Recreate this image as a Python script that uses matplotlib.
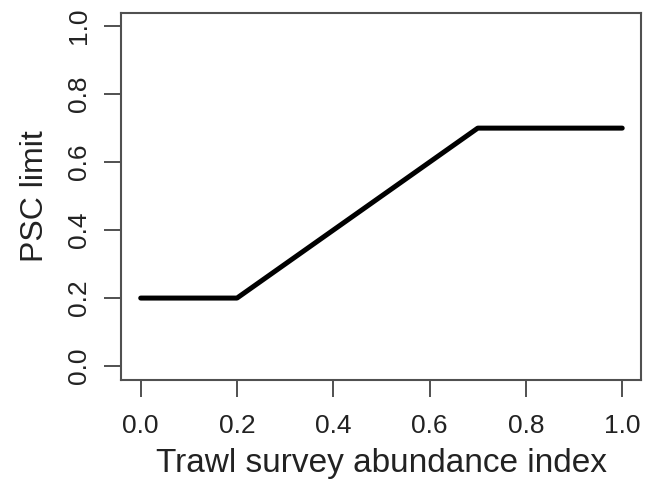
import matplotlib
matplotlib.use('Agg')
import matplotlib.pyplot as plt

# 데이터
abundance = [0.0, 0.2, 0.7, 1.0]
psc_limit = [0.2, 0.2, 0.7, 0.7]
tick_vals = [0.0, 0.2, 0.4, 0.6, 0.8, 1.0]
tick_labels = ['0.0', '0.2', '0.4', '0.6', '0.8', '1.0']

plt.rcParams['font.family'] = ['Liberation Sans', 'DejaVu Sans']

fig = plt.figure(figsize=(6.46, 4.83), dpi=100)
ax = fig.add_axes([0.188, 0.214, 0.805, 0.760])

ax.plot(abundance, psc_limit, color='black', linewidth=3.6,
        solid_capstyle='round', solid_joinstyle='round')

ax.set_xlim(-0.04, 1.04)
ax.set_ylim(-0.04, 1.04)
ax.set_xticks(tick_vals)
ax.set_xticklabels(tick_labels)
ax.set_yticks(tick_vals)
ax.set_yticklabels(tick_labels, rotation=90, va='center')

for s in ax.spines.values():
    s.set_color('#505050')
    s.set_linewidth(1.5)

ax.tick_params(axis='both', direction='out', length=12, width=1.4, color='#505050',
               labelsize=19, labelcolor='#222222')
ax.tick_params(axis='x', pad=13)
ax.tick_params(axis='y', pad=10)

ax.set_xlabel('Trawl survey abundance index', fontsize=24, color='#222222', labelpad=7)
ax.set_ylabel('PSC limit', fontsize=23, color='#222222', labelpad=12)

plt.savefig('out.png', dpi=100)
